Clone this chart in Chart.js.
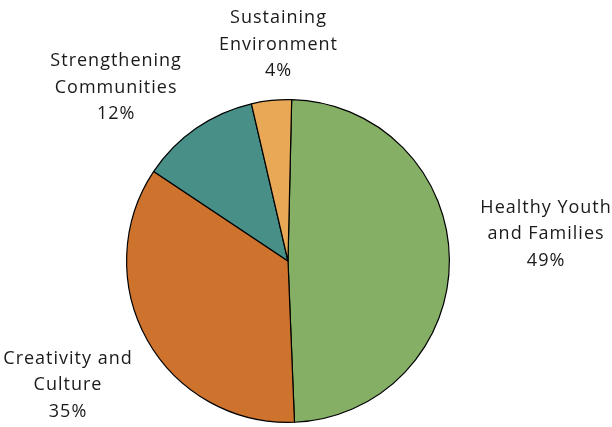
<!DOCTYPE html>
<html lang="en">
<head>
    <meta charset="UTF-8">
    <title>Funding by area</title>
    <script src="https://cdn.jsdelivr.net/npm/chart.js"></script>
    <style>
        html, body { margin: 0; padding: 0; background: #fff; }
        #wrap { width: 612px; height: 427px; }
    </style>
</head>
<body>
<div id="wrap"><canvas id="pie"></canvas></div>
<script>
const categories = ['Healthy Youth and Families', 'Creativity and Culture', 'Strengthening Communities', 'Sustaining Environment'];
const values = [49, 35, 12, 4];
const labelLines = [['Healthy Youth', 'and Families'], ['Creativity and', 'Culture'], ['Strengthening', 'Communities'], ['Sustaining', 'Environment']];
const colors = ['#86AF66', '#CD732E', '#478F87', '#E9A855'];
// where each label block sits, relative to pie centre, in radius units
const labelOffset = [[1.596, -0.168], [-1.366, 0.77], [-1.068, -1.075], [-0.062, -1.342]];

const outsideLabels = {
    id: 'outsideLabels',
    afterDraw(chart) {
        const ctx = chart.ctx;
        const arc = chart.getDatasetMeta(0).data[0];
        const r = arc.outerRadius;
        ctx.save();
        ctx.font = '18px "Open Sans"';
        ctx.letterSpacing = '1px';
        ctx.fillStyle = '#1a1a1a';
        ctx.textAlign = 'center';
        ctx.textBaseline = 'middle';
        values.forEach((v, i) => {
            const lines = labelLines[i].concat([v + '%']);
            const cx = arc.x + labelOffset[i][0] * r;
            const cy = arc.y + labelOffset[i][1] * r;
            const lh = 26.5;
            lines.forEach((t, j) => {
                ctx.fillText(t, cx + 0.5, cy + (j - 1) * lh);
            });
        });
        ctx.restore();
    }
};

new Chart(document.getElementById('pie'), {
    type: 'pie',
    data: {
        labels: categories,
        datasets: [{
            data: values,
            backgroundColor: colors,
            borderColor: '#000',
            borderWidth: 1.2
        }]
    },
    options: {
        responsive: true,
        maintainAspectRatio: false,
        animation: false,
        rotation: 1.3,
        layout: { padding: { left: 126, right: 162, top: 99, bottom: 4 } },
        plugins: {
            legend: { display: false },
            tooltip: { enabled: false }
        }
    },
    plugins: [outsideLabels]
});
</script>
</body>
</html>
